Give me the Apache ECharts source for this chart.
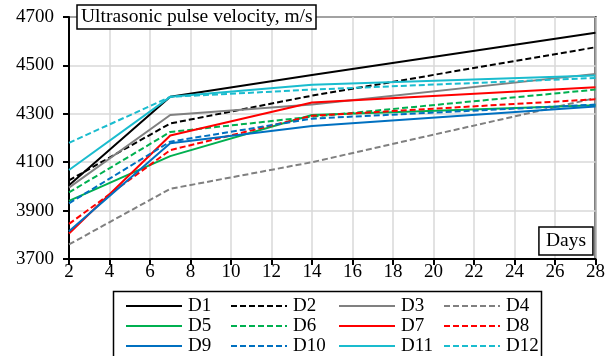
<!DOCTYPE html>
<html><head><meta charset="utf-8">
<script src="https://cdn.jsdelivr.net/npm/echarts@6/dist/echarts.min.js"></script>
<style>html,body{margin:0;padding:0;background:#fff}#c{width:608px;height:356px}</style>
</head><body><div id="c"></div>
<script>
const days = [2, 7, 14, 28];
const names = ['D1','D2','D3','D4','D5','D6','D7','D8','D9','D10','D11','D12'];
const D1  = [4005, 4370, 4460, 4635];
const D2  = [4025, 4260, 4375, 4575];
const D3  = [3995, 4295, 4338, 4465];
const D4  = [3760, 3990, 4100, 4365];
const D5  = [3940, 4125, 4295, 4335];
const D6  = [3975, 4225, 4288, 4400];
const D7  = [3805, 4210, 4347, 4410];
const D8  = [3845, 4150, 4292, 4360];
const D9  = [3815, 4178, 4250, 4330];
const D10 = [3930, 4185, 4280, 4338];
const D11 = [4068, 4370, 4420, 4458];
const D12 = [4180, 4370, 4400, 4448];
const values = [D1,D2,D3,D4,D5,D6,D7,D8,D9,D10,D11,D12];
const colors = ['#000000','#000000','#808080','#808080','#00B050','#00B050','#FF0000','#FF0000','#0070C0','#0070C0','#1ABCCE','#1ABCCE'];
const dashed = [false,true,false,true,false,true,false,true,false,true,false,true];
const yTicks = {min: 3700, max: 4700, interval: 200};
const xTicks = {min: 2, max: 28, interval: 2};

const font = 'Liberation Serif';
const series = names.map((n, i) => ({
  name: n, type: 'line', symbol: 'none', showSymbol: false,
  data: days.map((d, j) => [d, values[i][j]]),
  lineStyle: {color: colors[i], width: 2, type: dashed[i] ? [6, 3] : 'solid'},
  itemStyle: {color: colors[i]},
  z: 3
}));

const legendCols = [125, 230, 338, 443];
const legends = legendCols.map((x, c) => ({
  orient: 'vertical', left: x, top: 296, itemWidth: 56, itemHeight: 14, itemGap: 0,
  data: [names[c], names[c+4], names[c+8]],
  itemStyle: {opacity: 0},
  textStyle: {fontFamily: font, fontSize: 19, color: '#000', lineHeight: 20, padding: [0,0,0,1]},
  padding: 0
}));

const chart = echarts.init(document.getElementById('c'));
chart.setOption({
  animation: false,
  grid: {left: 69, right: 10, top: 17, bottom: 97, show: true, borderColor: '#000', borderWidth: 2, backgroundColor: 'transparent'},
  title: [
    {text: 'Ultrasonic pulse velocity, m/s', left: 77, top: 5, padding: [2, 4, 2, 4],
     borderColor: '#000', borderWidth: 1.5, backgroundColor: '#fff',
     textStyle: {fontFamily: font, fontSize: 19.5, fontWeight: 'normal', color: '#000', lineHeight: 20}},
    {text: 'Days', right: 15, bottom: 101, padding: [4, 7, 4, 7],
     borderColor: '#000', borderWidth: 1.5, backgroundColor: '#fff',
     textStyle: {fontFamily: font, fontSize: 19.5, fontWeight: 'normal', color: '#000', lineHeight: 20}}
  ],
  legend: legends,
  graphic: [{type: 'rect', shape: {x: 113.5, y: 291.5, width: 428, height: 80}, style: {fill: 'none', stroke: '#000', lineWidth: 1.5}, z: 0}],
  xAxis: {
    type: 'value', min: xTicks.min, max: xTicks.max, interval: xTicks.interval,
    axisLine: {show: true, lineStyle: {color: '#000', width: 2}},
    axisTick: {show: true, inside: false, length: 6, lineStyle: {color: '#000', width: 2}},
    axisLabel: {fontFamily: font, fontSize: 19, color: '#000', margin: 4},
    splitLine: {show: true, lineStyle: {color: '#D9D9D9', width: 1.5}}
  },
  yAxis: {
    type: 'value', min: yTicks.min, max: yTicks.max, interval: yTicks.interval,
    axisLine: {show: true, lineStyle: {color: '#000', width: 2}},
    axisTick: {show: true, inside: false, length: 6, lineStyle: {color: '#000', width: 2}},
    axisLabel: {fontFamily: font, fontSize: 19, color: '#000', margin: 15, formatter: v => String(v)},
    splitLine: {show: true, lineStyle: {color: '#D9D9D9', width: 1.5}}
  },
  series: series
});
</script></body></html>
